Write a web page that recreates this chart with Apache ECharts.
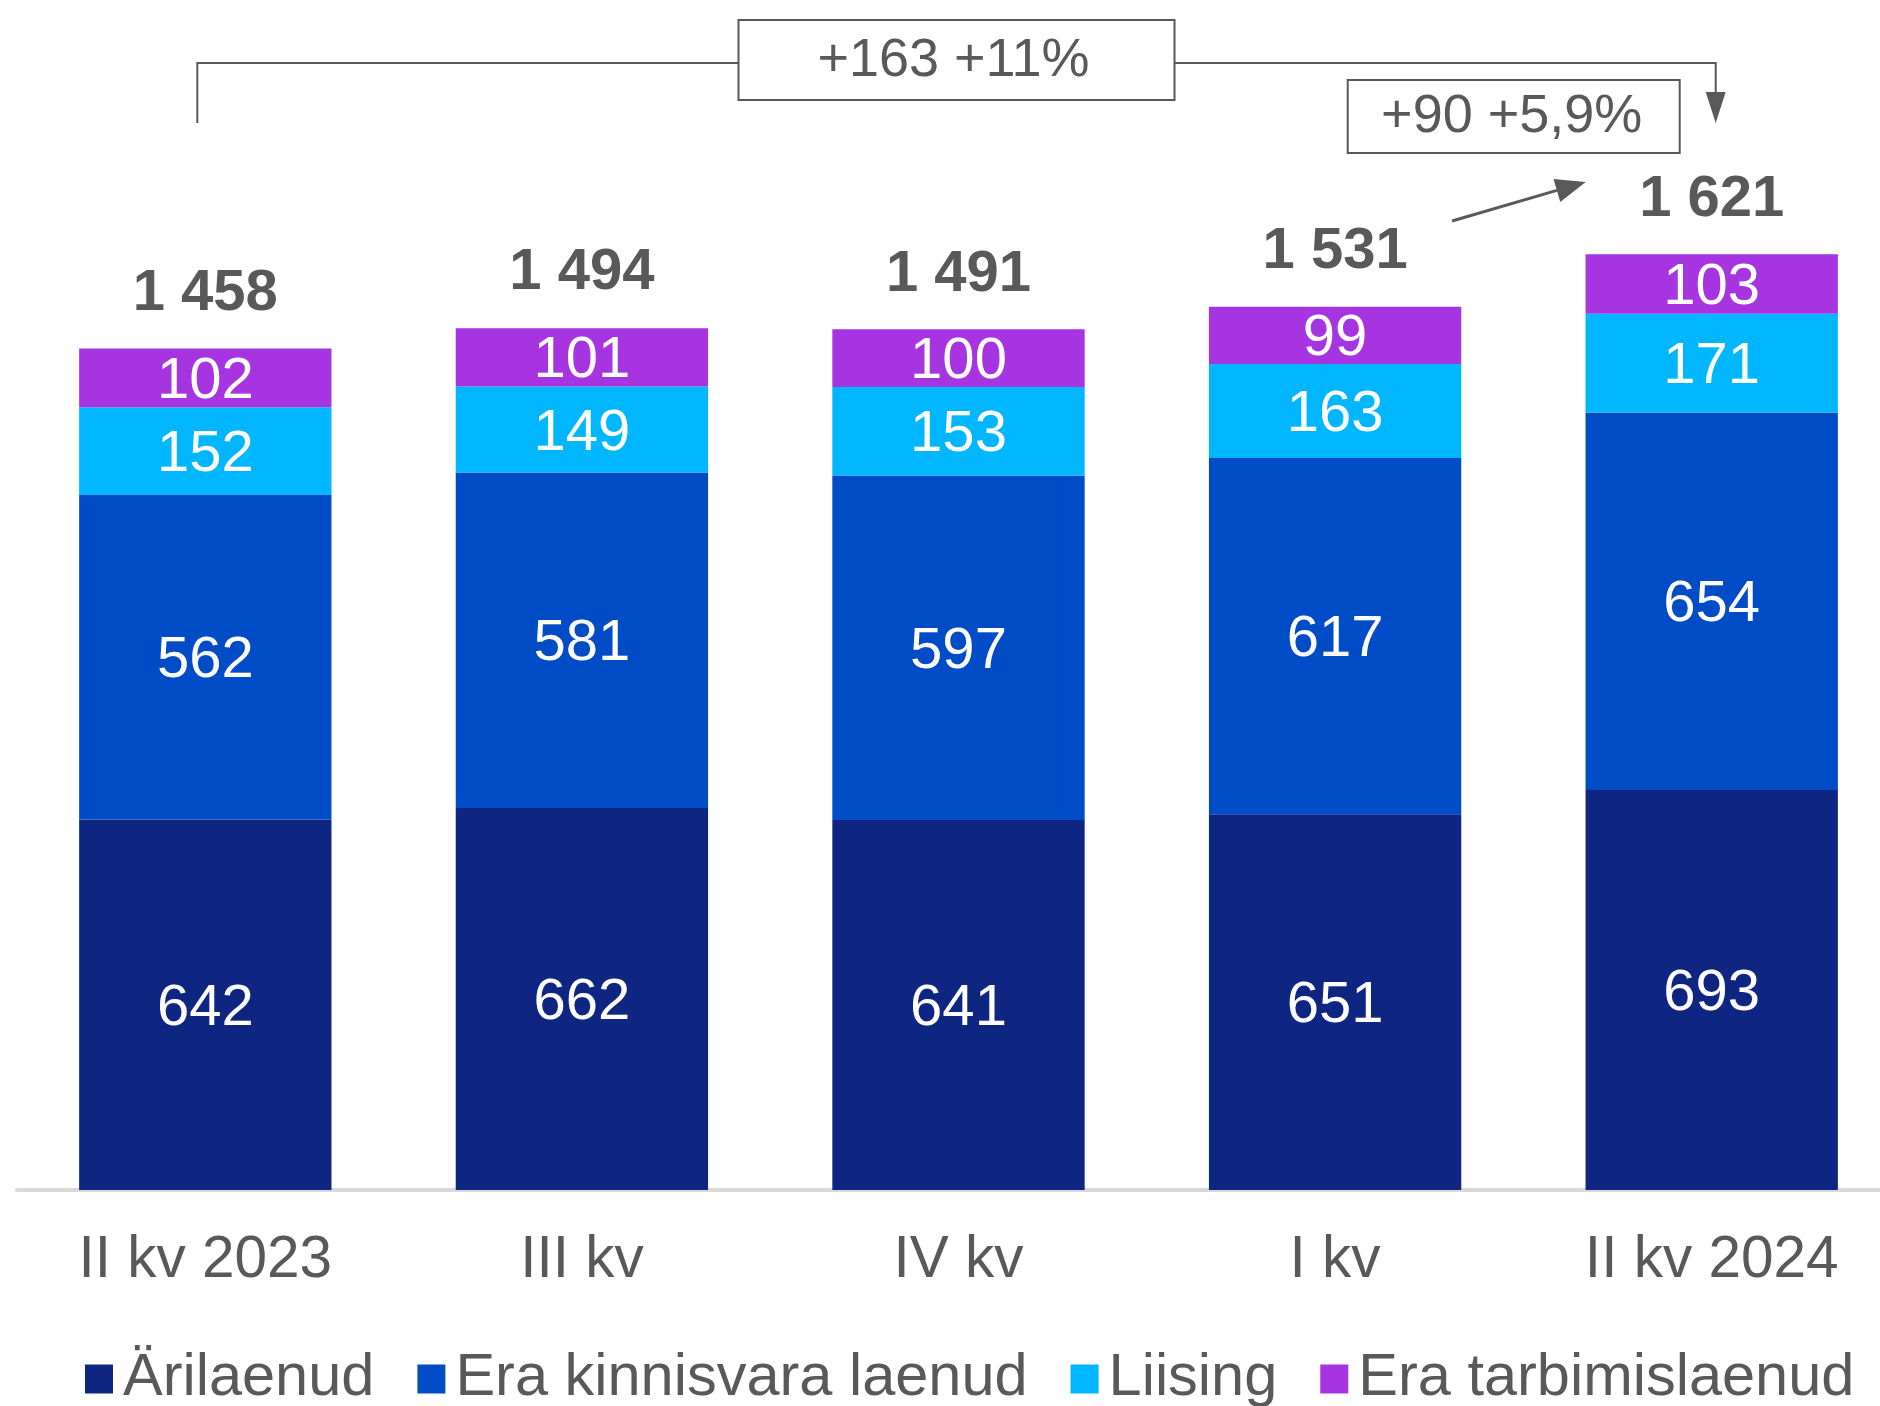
<!DOCTYPE html>
<html>
<head>
<meta charset="utf-8">
<script src="https://cdn.jsdelivr.net/npm/echarts@6/dist/echarts.min.js"></script>
<style>
  html, body { margin: 0; padding: 0; background: #fff; }
  #chart { width: 1880px; height: 1406px; }
</style>
</head>
<body>
<div id="chart"></div>
<script>
// categories and values
var quarters = ['II kv 2023', 'III kv', 'IV kv', 'I kv', 'II kv 2024'];
var seriesNames = ['Ärilaenud', 'Era kinnisvara laenud', 'Liising', 'Era tarbimislaenud'];
var arilaenud = [642, 662, 641, 651, 693];
var kinnisvara = [562, 581, 597, 617, 654];
var liising = [152, 149, 153, 163, 171];
var tarbimis = [102, 101, 100, 99, 103];
var totals = [1458, 1494, 1491, 1531, 1621];
var totalLabels = ['1 458', '1 494', '1 491', '1 531', '1 621'];
var colors = ['#0e2681', '#004bc6', '#00b7ff', '#a634e0'];

var font = 'Liberation Sans, Arial, sans-serif';
var grey = '#595959';

var chart = echarts.init(document.getElementById('chart'));

function stackSeries(name, data, color) {
    return {
        name: name,
        type: 'bar',
        stack: 'total',
        barCategoryGap: '33%',
        data: data,
        itemStyle: { color: color },
        label: {
            show: true,
            position: 'inside',
            offset: [0, 4],
            color: '#fff',
            fontSize: 58,
            fontFamily: font
        },
        emphasis: { disabled: true }
    };
}

var option = {
    animation: false,
    grid: { left: 17, width: 1883, top: 151, bottom: 216, outerBoundsMode: 'none' },
    legend: {
        data: seriesNames,
        left: 80,
        top: 1344,
        icon: 'rect',
        itemWidth: 28,
        itemHeight: 29,
        itemGap: 43,
        textStyle: { color: grey, fontSize: 59.5, fontFamily: font, lineHeight: 58, padding: [0, 0, 0, 5] }
    },
    xAxis: {
        type: 'category',
        data: quarters,
        axisLine: { lineStyle: { color: '#d9d9d9', width: 4 } },
        axisTick: { show: false },
        axisLabel: { color: grey, fontSize: 58.5, fontFamily: font, lineHeight: 58, margin: 42, interval: 0 }
    },
    yAxis: {
        type: 'value',
        min: 0,
        max: 1800,
        show: false,
        splitLine: { show: false }
    },
    series: [
        stackSeries(seriesNames[0], arilaenud, colors[0]),
        stackSeries(seriesNames[1], kinnisvara, colors[1]),
        stackSeries(seriesNames[2], liising, colors[2]),
        stackSeries(seriesNames[3], tarbimis, colors[3]),
        {
            name: 'Kokku',
            type: 'scatter',
            data: totals,
            symbolSize: 1,
            itemStyle: { color: 'rgba(0,0,0,0)', opacity: 1 },
            label: {
                show: true,
                position: 'top',
                distance: 25,
                color: grey,
                fontSize: 58,
                fontWeight: 'bold',
                fontFamily: font,
                lineHeight: 58,
                formatter: function (p) { return totalLabels[p.dataIndex]; }
            },
            emphasis: { disabled: true },
            z: 5
        }
    ]
};

chart.setOption(option);

// annotations: bracket over the whole period and the quarter change arrow
var x0 = chart.convertToPixel({ xAxisIndex: 0 }, 0) - 8;
var x3 = chart.convertToPixel({ xAxisIndex: 0 }, 3);
var x4 = chart.convertToPixel({ xAxisIndex: 0 }, 4) + 4;
var mid = (x0 + x4) / 2;
var lineStyle = { stroke: grey, lineWidth: 2, fill: null };
var textStyle = { fill: grey, fontSize: 54, fontFamily: font, align: 'center', verticalAlign: 'middle' };

// small arrow between I kv and II kv 2024
var a0 = [x3 + 117, 221];
var a1 = [x4 - 130, 182];
var dx = a1[0] - a0[0], dy = a1[1] - a0[1];
var len = Math.sqrt(dx * dx + dy * dy);
var ux = dx / len, uy = dy / len;
var base = [a1[0] - 30 * ux, a1[1] - 30 * uy];

chart.setOption({
    graphic: [
        { type: 'polyline', shape: { points: [[x0, 123], [x0, 63], [mid - 218, 63]] }, style: lineStyle },
        { type: 'polyline', shape: { points: [[mid + 218, 63], [x4, 63], [x4, 95]] }, style: lineStyle },
        { type: 'polygon', shape: { points: [[x4 - 10, 92], [x4 + 10, 92], [x4, 123]] }, style: { fill: grey } },
        { type: 'rect', shape: { x: mid - 218, y: 20, width: 436, height: 80 }, style: { stroke: grey, lineWidth: 2, fill: '#fff' } },
        { type: 'text', x: mid - 3, y: 61, style: Object.assign({ text: '+163 +11%' }, textStyle) },
        { type: 'rect', shape: { x: x4 - 368, y: 80, width: 332, height: 73 }, style: { stroke: grey, lineWidth: 2, fill: '#fff' } },
        { type: 'text', x: x4 - 204, y: 117, style: Object.assign({ text: '+90 +5,9%' }, textStyle) },
        { type: 'line', shape: { x1: a0[0], y1: a0[1], x2: base[0], y2: base[1] }, style: { stroke: grey, lineWidth: 3 } },
        {
            type: 'polygon',
            shape: { points: [a1, [base[0] + 12 * uy, base[1] - 12 * ux], [base[0] - 12 * uy, base[1] + 12 * ux]] },
            style: { fill: grey }
        }
    ]
});
</script>
</body>
</html>
